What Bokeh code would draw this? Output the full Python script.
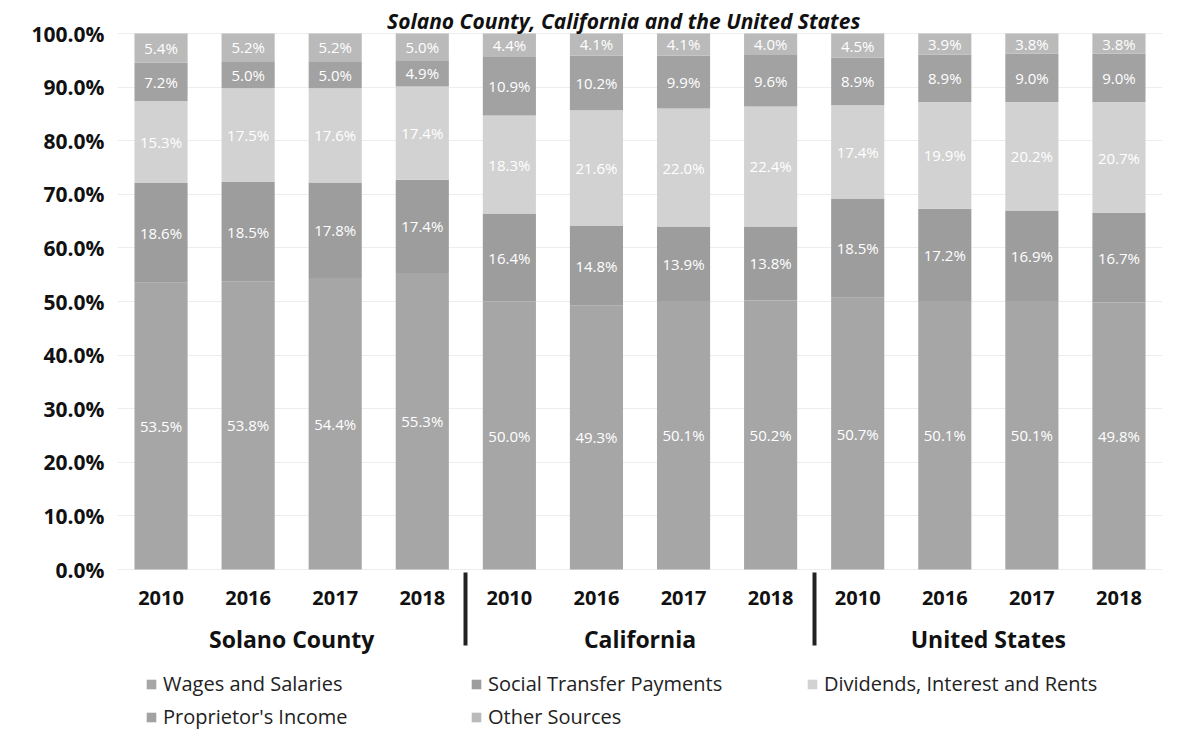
from bokeh.plotting import figure
from bokeh.models import (FactorRange, ColumnDataSource, Legend, LegendItem, Label,
                          FixedTicker, NumeralTickFormatter)
from bokeh.core.properties import value
from bokeh.embed import file_html
from bokeh.resources import INLINE

regions = ["Solano County", "California", "United States"]
years = ["2010", "2016", "2017", "2018"]
series = ["Wages and Salaries", "Social Transfer Payments", "Dividends, Interest and Rents",
          "Proprietor's Income", "Other Sources"]
wages = [53.5, 53.8, 54.4, 55.3, 50.0, 49.3, 50.1, 50.2, 50.7, 50.1, 50.1, 49.8]
transfers = [18.6, 18.5, 17.8, 17.4, 16.4, 14.8, 13.9, 13.8, 18.5, 17.2, 16.9, 16.7]
dividends = [15.3, 17.5, 17.6, 17.4, 18.3, 21.6, 22.0, 22.4, 17.4, 19.9, 20.2, 20.7]
proprietors = [7.2, 5.0, 5.0, 4.9, 10.9, 10.2, 9.9, 9.6, 8.9, 8.9, 9.0, 9.0]
other = [5.4, 5.2, 5.2, 5.0, 4.4, 4.1, 4.1, 4.0, 4.5, 3.9, 3.8, 3.8]
y_ticks = [0.0, 0.1, 0.2, 0.3, 0.4, 0.5, 0.6, 0.7, 0.8, 0.9, 1.0]
title_text = "Solano County, California and the United States"

colors = ["#a6a6a6", "#9d9d9d", "#d2d2d2", "#a2a2a2", "#bababa"]
FONT = "Open Sans"

factors = [(r, y) for r in regions for y in years]
all_vals = [wages, transfers, dividends, proprietors, other]
keys = ["s0", "s1", "s2", "s3", "s4"]
data = {"x": factors}
for k, vals in zip(keys, all_vals):
    data[k] = [v / 100.0 for v in vals]
source = ColumnDataSource(data)

# frame covers the full height: 0% sits at 569px, 536px per 100%
W, H = 1183, 747
BOT, LEFT, RIGHT = 2, 117, 21
PX = 536.0
ZERO = 569.0
x_range = FactorRange(*factors, factor_padding=0, group_padding=0, subgroup_padding=0,
                      range_padding=0)
p = figure(x_range=x_range, y_range=(-(H - BOT - ZERO) / PX, ZERO / PX), width=W, height=H,
           output_backend="svg", toolbar_location=None,
           min_border_left=LEFT, min_border_right=RIGHT, min_border_top=0,
           min_border_bottom=BOT)
p.outline_line_color = None
p.background_fill_color = "white"
p.border_fill_color = "white"

renderers = p.vbar_stack(keys, x="x", width=0.61, source=source, color=colors,
                         line_color=None)

# data labels
lx, ly, lt = [], [], []
for i, f in enumerate(factors):
    base = 0.0
    for vals in all_vals:
        v = vals[i]
        lx.append(f)
        ly.append((base + v / 2.0) / 100.0)
        lt.append(f"{v:.1f}%")
        base += v
lsrc = ColumnDataSource(dict(x=lx, y=ly, t=lt))
p.text(x="x", y="y", text="t", source=lsrc, text_align="center", text_baseline="middle",
       text_font=value(FONT), text_font_size="15px", text_color="white")

# axes
p.yaxis.ticker = FixedTicker(ticks=y_ticks)
p.yaxis.formatter = NumeralTickFormatter(format="0.0%")
p.yaxis.axis_line_color = None
p.yaxis.major_tick_line_color = None
p.yaxis.minor_tick_line_color = None
p.yaxis.major_label_text_font = FONT
p.yaxis.major_label_text_font_style = "bold"
p.yaxis.major_label_text_font_size = "21px"
p.yaxis.major_label_text_color = "#111111"
p.yaxis.major_label_standoff = 7

xa = p.xaxis[0]
xa.fixed_location = 0
xa.axis_line_color = None
xa.major_tick_line_color = None
xa.minor_tick_line_color = None
xa.major_label_text_font = FONT
xa.major_label_text_font_style = "bold"
xa.major_label_text_font_size = "20px"
xa.major_label_text_color = "#111111"
xa.major_label_standoff = 15
xa.group_text_font = FONT
xa.group_text_font_style = "bold"
xa.group_text_font_size = "23px"
xa.group_text_color = "#111111"
xa.group_label_orientation = "horizontal"
xa.separator_line_color = "#222222"
xa.separator_line_width = 4

p.xgrid.grid_line_color = None
p.ygrid.ticker = FixedTicker(ticks=y_ticks)
p.ygrid.grid_line_color = "#ededed"

# legends (three columns, like the reference)
def make_legend(idx, vx, vy):
    items = [LegendItem(label=series[i], renderers=[renderers[i]]) for i in idx]
    lg = Legend(items=items, location=(vx, vy), orientation="vertical",
                border_line_color=None, background_fill_alpha=0,
                label_text_font=FONT, label_text_font_size="20px",
                label_text_color="#222222",
                glyph_width=12, glyph_height=12, label_standoff=6,
                spacing=6, padding=0, margin=0, label_height=20)
    p.add_layout(lg)

make_legend([0, 3], 28, 15)
make_legend([1, 4], 353, 15)
make_legend([2], 689, 48)

p.add_layout(Label(x=8.53, y=1 + 13 / PX, text=title_text, text_align="right",
                   text_baseline="alphabetic", text_font=FONT, text_font_style="bold italic",
                   text_font_size="21px", text_color="#111111"))

open("out.html", "w").write(file_html(p, INLINE))
